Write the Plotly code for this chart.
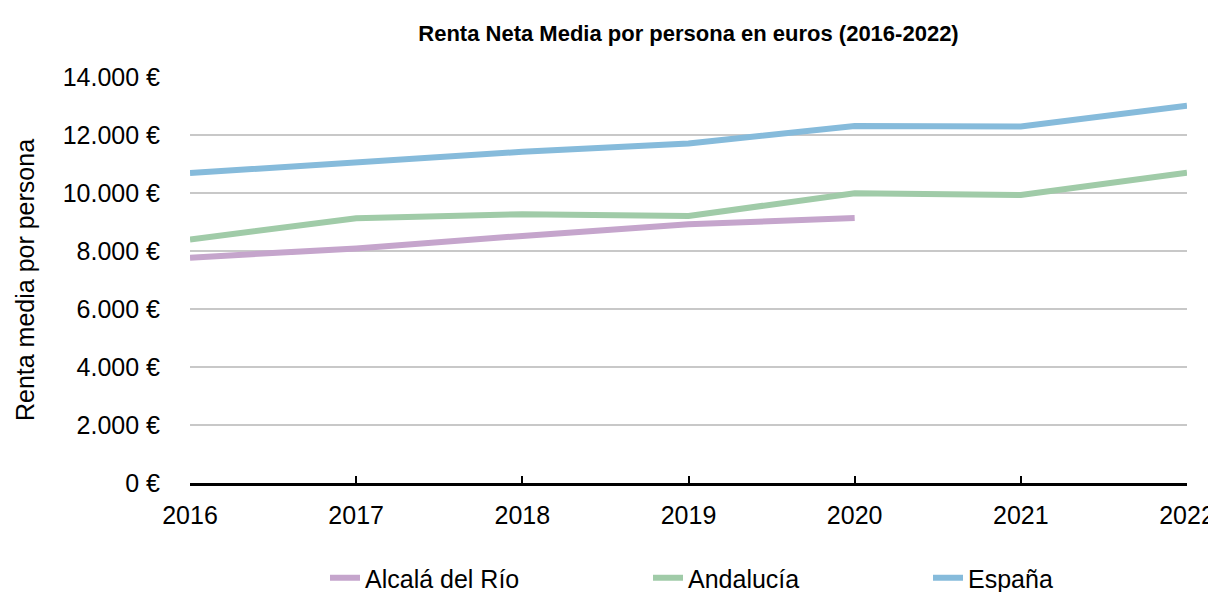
import plotly.graph_objects as go

years = [2016, 2017, 2018, 2019, 2020, 2021, 2022]
year_labels = ["2016", "2017", "2018", "2019", "2020", "2021", "2022"]
alcala = [7770, 8090, 8520, 8920, 9140, None, None]
andalucia = [8400, 9130, 9270, 9210, 9990, 9930, 10700]
espana = [10690, 11080, 11420, 11710, 12310, 12290, 13010]
y_ticks = [0, 2000, 4000, 6000, 8000, 10000, 12000, 14000]
y_tick_labels = ["0 €", "2.000 €", "4.000 €", "6.000 €", "8.000 €",
                 "10.000 €", "12.000 €", "14.000 €"]

series = [
    ("Alcalá del Río", alcala, "#C5A5CC", "legend"),
    ("Andalucía", andalucia, "#A0CBA8", "legend2"),
    ("España", espana, "#86BBDB", "legend3"),
]

fig = go.Figure()
for name, vals, color, lg in series:
    fig.add_trace(go.Scatter(
        x=years, y=vals, name=name, mode="lines",
        line=dict(color=color, width=6), connectgaps=False, legend=lg,
    ))

# page body has an 8px margin; shift figure margins to compensate
OFF = 8
L, T, PW, PH = 190 - OFF, 77 - OFF, 997, 406
W, H = 1216, 592
font = "Liberation Sans, Helvetica, Arial, sans-serif"


def legend_at(text_start_px):
    return dict(
        orientation="h", xref="paper",
        x=(text_start_px - 40 - 190) / PW, xanchor="left",
        yref="container", y=1 - (578 - OFF) / H, yanchor="middle",
        font=dict(size=25), bgcolor="rgba(0,0,0,0)",
    )


fig.update_layout(
    width=W, height=H,
    paper_bgcolor="white", plot_bgcolor="white",
    margin=dict(l=L, r=W - L - PW, t=T, b=H - T - PH),
    font=dict(family=font, size=25, color="#000000"),
    title=dict(
        text="<b>Renta Neta Media por persona en euros (2016-2022)</b>",
        font=dict(family=font, size=22, color="#000"),
        x=(L + PW / 2) / W, xanchor="center", y=1 - (33 - OFF) / H, yanchor="middle",
    ),
    xaxis=dict(
        range=[2016, 2022], tickvals=years, ticktext=year_labels,
        showgrid=False, showline=True, linecolor="#000", linewidth=2.5,
        ticks="inside", ticklen=7, tickwidth=2, tickcolor="#000",
        ticklabelstandoff=8, zeroline=False, automargin=False,
        tickfont=dict(size=25),
    ),
    yaxis=dict(
        range=[0, 14000], tickvals=y_ticks, ticktext=y_tick_labels,
        showgrid=True, gridcolor="#C8C8C8", gridwidth=1.5,
        zeroline=False, showline=False, ticks="", automargin=False,
        ticklabelstandoff=29,
        title=dict(text="Renta media por persona", standoff=20, font=dict(size=25)),
        tickfont=dict(size=25),
    ),
    legend=legend_at(365),
    legend2=legend_at(688),
    legend3=legend_at(968),
    showlegend=True,
)

fig.write_html("out.html")
